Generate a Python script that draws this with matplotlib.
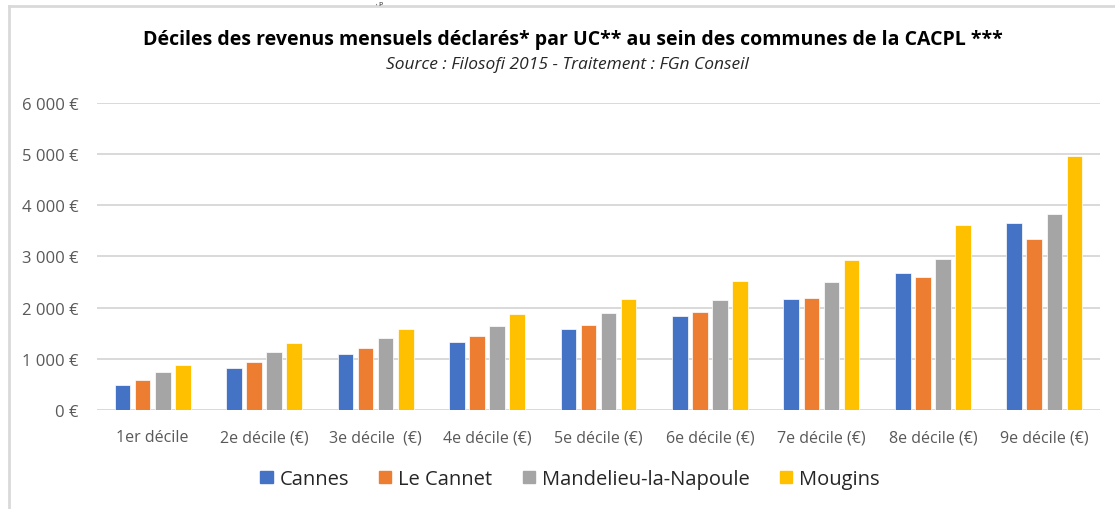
import matplotlib
matplotlib.use("Agg")
import matplotlib.pyplot as plt
import numpy as np
from matplotlib.patches import Rectangle
from matplotlib.lines import Line2D

categories = ["1er décile", "2e décile (€)", "3e décile  (€)", "4e décile (€)", "5e décile (€)",
              "6e décile (€)", "7e décile (€)", "8e décile (€)", "9e décile (€)"]
series_names = ["Cannes", "Le Cannet", "Mandelieu-la-Napoule", "Mougins"]
cannes = [488, 820, 1093, 1328, 1581, 1842, 2173, 2668, 3644]
le_cannet = [586, 937, 1210, 1445, 1659, 1920, 2193, 2603, 3332]
mandelieu = [742, 1132, 1406, 1640, 1900, 2154, 2492, 2954, 3820]
mougins = [878, 1308, 1581, 1874, 2173, 2525, 2935, 3605, 4959]
colors = ["#4472C4", "#ED7D31", "#A5A5A5", "#FFC000"]
yticks = [0, 1000, 2000, 3000, 4000, 5000, 6000]
ytick_labels = ["0 €", "1 000 €", "2 000 €", "3 000 €", "4 000 €", "5 000 €", "6 000 €"]
title = "Déciles des revenus mensuels déclarés* par UC** au sein des communes de la CACPL ***"
subtitle = "Source : Filosofi 2015 - Traitement : FGn Conseil"

FONT = ["Open Sans", "DejaVu Sans"]
plt.rcParams["font.family"] = FONT

W, H = 1115, 510
fig = plt.figure(figsize=(W / 100, H / 100), dpi=100)
fig.patch.set_facecolor("white")

ax = fig.add_axes([97 / W, (H - 411) / H, (1100 - 97) / W, (411 - 103.7) / H])
data = [cannes, le_cannet, mandelieu, mougins]
x = np.arange(len(categories))
step = 0.18
bw = 0.14
for i, (vals, c) in enumerate(zip(data, colors)):
    ax.bar(x + (i - 1.5) * step, vals, width=bw, color=c, edgecolor="white", linewidth=0.5, zorder=3)

ax.set_xlim(-0.5, len(categories) - 0.5)
ax.set_ylim(0, 6000)
ax.set_yticks(yticks)
ax.set_yticklabels(ytick_labels, fontsize=12, color="#595959")
ax.set_xticks(x)
ax.set_xticklabels(categories, fontsize=11.5, color="#595959")
ax.tick_params(axis="both", length=0)
ax.tick_params(axis="y", pad=13)
ax.tick_params(axis="x", pad=14)
ax.grid(axis="y", color="#D9D9D9", linewidth=1.4, zorder=0)
for s in ax.spines.values():
    s.set_visible(False)

fig.text(573 / W, 1 - 40 / H, title, ha="center", va="center", fontsize=14, fontweight="bold", color="black")
fig.text(567 / W, 1 - 65 / H, subtitle, ha="center", va="center", fontsize=12.5, style="italic", color="#262626")
fig.text(376 / W, 1 - 0.5 / H, ", p", ha="left", va="top", fontsize=4.5, color="black")

# frame
fig.add_artist(Line2D([9 / W, 9 / W], [0, 1 - 7 / H], transform=fig.transFigure, color="#D9D9D9", linewidth=2))
fig.add_artist(Line2D([9 / W, 1], [1 - 7 / H, 1 - 7 / H], transform=fig.transFigure, color="#D9D9D9", linewidth=2))

handles = [Rectangle((0, 0), 1, 1, color=c) for c in colors]
leg = fig.legend(handles, series_names, loc="center", bbox_to_anchor=(570 / W, 1 - 480 / H), ncol=4,
                 frameon=False, fontsize=14.5, handlelength=0.6, handleheight=0.6, handletextpad=0.35,
                 columnspacing=1.5)
for t in leg.get_texts():
    t.set_color("#262626")

fig.savefig("out.png", dpi=100)
